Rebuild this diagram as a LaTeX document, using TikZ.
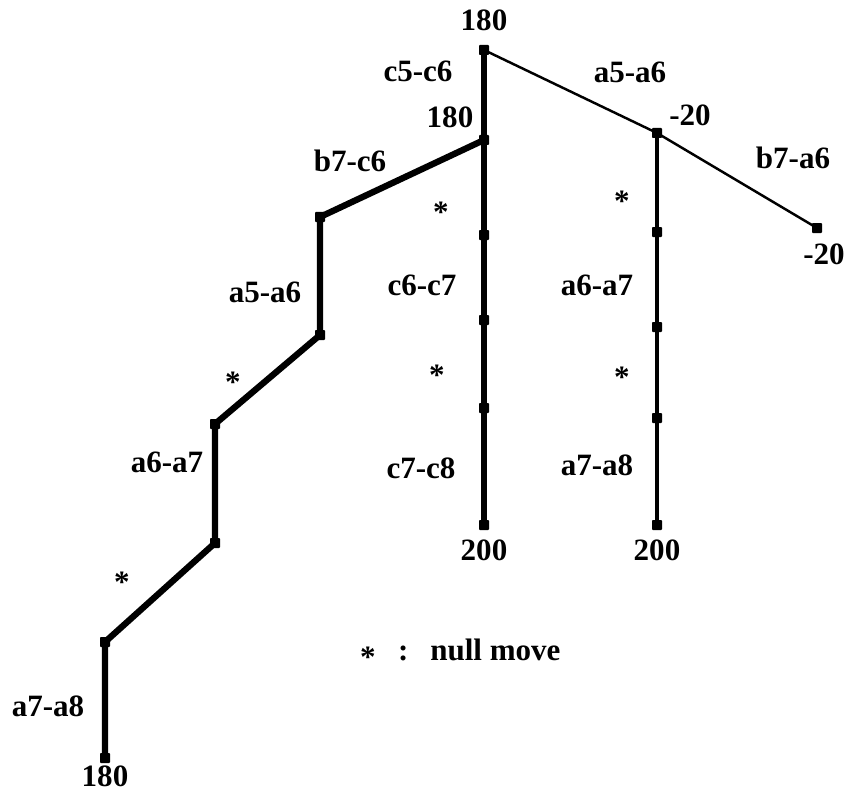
\documentclass[tikz,border=0pt]{standalone}
\usepackage{fontspec}
\setmainfont{Liberation Serif}
\tikzset{
  dot/.style={fill, rectangle, rounded corners=0.8pt, minimum size=3mm, inner sep=0pt},
  heavy/.style={line width=5.4pt},
  light/.style={line width=2.1pt},
  medium/.style={line width=2.8pt},
  lbl/.style={font=\fontsize{26.5}{31}\selectfont\bfseries, inner sep=0pt}
}
\begin{document}
\begin{tikzpicture}[x=0.03cm, y=-0.03cm]
  \useasboundingbox (0,0) rectangle (848,793);
  % tree positions
  \node[dot] (root) at (484,50) {};
  \node[dot] (m0) at (484,140) {};
  \node[dot] (m1) at (484,235) {};
  \node[dot] (m2) at (484,320) {};
  \node[dot] (m3) at (484,408) {};
  \node[dot] (m4) at (484,525) {};
  \node[dot] (r0) at (657,133) {};
  \node[dot] (r1) at (657,232) {};
  \node[dot] (r2) at (657,327) {};
  \node[dot] (r3) at (657,418) {};
  \node[dot] (r4) at (657,525) {};
  \node[dot] (re) at (817,228) {};
  \node[dot] (l1) at (320,217) {};
  \node[dot] (l2) at (320,335) {};
  \node[dot] (l3) at (215,424) {};
  \node[dot] (l4) at (215,543) {};
  \node[dot] (l5) at (105,642) {};
  \node[dot] (l6) at (105,758) {};
  % edges
  \draw[heavy] (root.center) -- (m0.center) -- (m1.center) -- (m2.center) -- (m3.center) -- (m4.center);
  \draw[heavy, line join=round] (m0.center) -- (l1.center) -- (l2.center) -- (l3.center) -- (l4.center) -- (l5.center) -- (l6.center);
  \draw[light] (root.center) -- (r0.center) -- (re.center);
  \draw[medium] (r0.center) -- (r1.center) -- (r2.center) -- (r3.center) -- (r4.center);
  % values
  \node[lbl] (vroot) at (484,20) {180};
  \node[lbl] (vm0) at (450,117) {180};
  \node[lbl] (vr0) at (690,115) {-20};
  \node[lbl] (vre) at (824,254) {-20};
  \node[lbl] (vm4) at (484,550) {200};
  \node[lbl] (vr4) at (657,550) {200};
  \node[lbl] (vl6) at (105,776) {180};
  % moves
  \node[lbl] (c56) at (418,71) {c5-c6};
  \node[lbl] (a56r) at (630,72) {a5-a6};
  \node[lbl] (b7a6) at (793,158) {b7-a6};
  \node[lbl] (b7c6) at (350,161) {b7-c6};
  \node[lbl] (a56l) at (265,292) {a5-a6};
  \node[lbl] (a67l) at (167,462) {a6-a7};
  \node[lbl] (a78l) at (48,706) {a7-a8};
  \node[lbl] (c67) at (422,285) {c6-c7};
  \node[lbl] (c78) at (421,468) {c7-c8};
  \node[lbl] (a67r) at (597,285) {a6-a7};
  \node[lbl] (a78r) at (597,465) {a7-a8};
  % null moves
  \node[lbl] (n1) at (441,212) {*};
  \node[lbl] (n2) at (437,375) {*};
  \node[lbl] (n3) at (622,201) {*};
  \node[lbl] (n4) at (622,377) {*};
  \node[lbl] (n5) at (233,382) {*};
  \node[lbl] (n6) at (122,582) {*};
  % legend
  \node[lbl] (key) at (368,657) {*};
  \node[lbl, anchor=west] (keytext) at (398,650) {:\hspace{0.7em}null move};
\end{tikzpicture}
\end{document}
